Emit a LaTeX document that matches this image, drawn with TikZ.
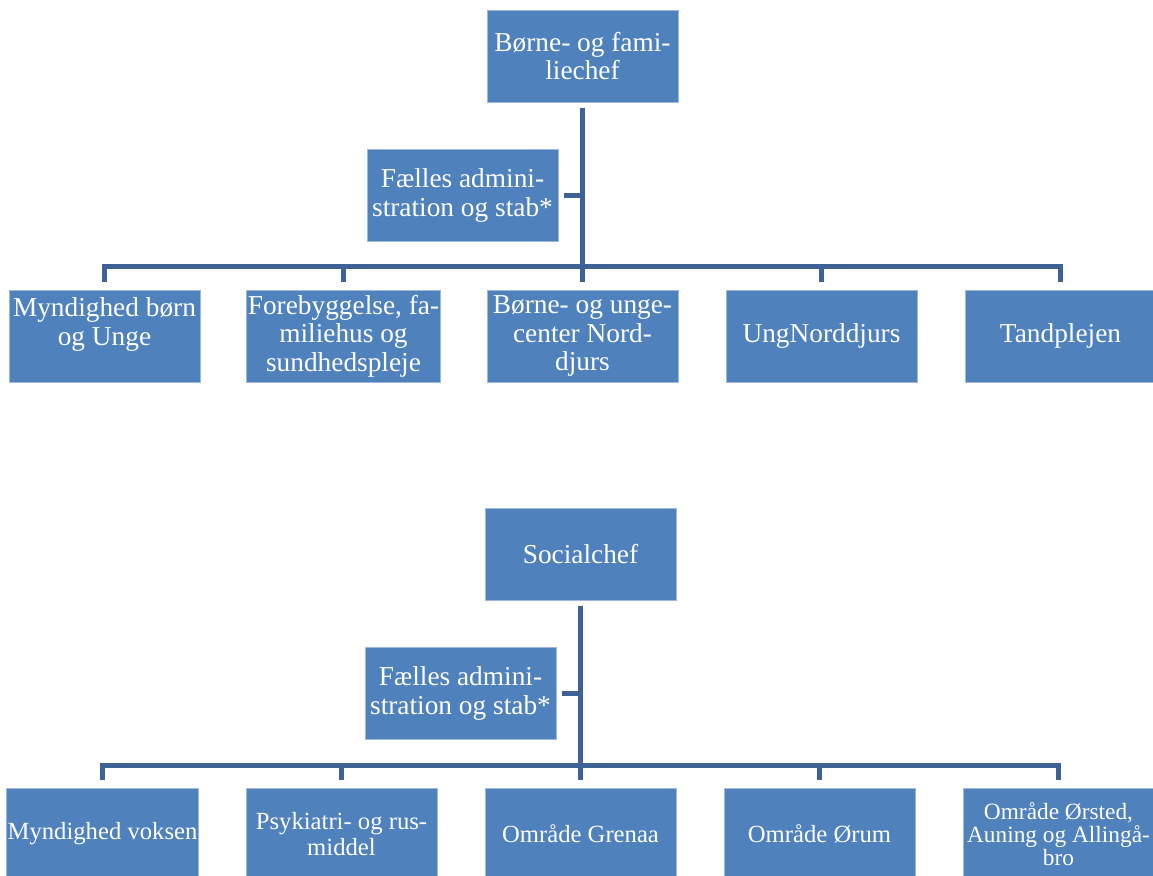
\documentclass[tikz,border=0pt]{standalone}
\usepackage{fontspec}
\setmainfont{Liberation Serif}
\usetikzlibrary{positioning, calc}
\definecolor{boxblue}{HTML}{4F81BD}
\definecolor{lineblue}{HTML}{3E6296}
\definecolor{edgeblue}{HTML}{9DB7DE}

\begin{document}
\begin{tikzpicture}[
    x=0.75pt,
    y=-0.75pt,
    orgbox/.style={rectangle, draw=edgeblue, line width=0.5pt, fill=boxblue, text=white, minimum width=143pt, minimum height=69pt, inner sep=1pt, align=center, font=\fontsize{20.5}{21.5}\selectfont},
    lowbox/.style={orgbox, font=\fontsize{18.5}{19.5}\selectfont},
    link/.style={lineblue, line width=3.75pt}
]
\useasboundingbox (0,0) rectangle (1153,875);

% Upper chart: chef and staff
\node[orgbox] (chefA) at (582.5, 56) {Børne- og fami-\\liechef};
\node[orgbox] (stabA) at (462.5, 195.5) {Fælles admini-\\stration og stab*};

% Upper chart: units
\node[orgbox] (unitA1) at (104.5, 336) {Myndighed børn\\og Unge\\~};
\node[orgbox] (unitA2) at (343.5, 336) {Forebyggelse, fa-\\miliehus og\\sundhedspleje};
\node[orgbox] (unitA3) at (582.5, 336) {Børne- og unge-\\center Nord-\\djurs};
\node[orgbox] (unitA4) at (821.5, 336) {UngNorddjurs};
\node[orgbox] (unitA5) at (1060.5, 336) {Tandplejen};

\coordinate (busA) at (0, 266);
\foreach \u in {unitA1, unitA2, unitA3, unitA4, unitA5} {
    \draw[link, shorten <=4pt, shorten >=6pt] (chefA.south) -- (chefA.south |- busA) -| (\u.north);
}
\draw[link] ([xshift=4pt]stabA.east) -- (stabA.east -| chefA.south);

% Lower chart: chef and staff
\node[orgbox] (chefB) at (580.5, 554) {Socialchef};
\node[orgbox] (stabB) at (460.5, 693.5) {Fælles admini-\\stration og stab*};

% Lower chart: units
\node[lowbox] (unitB1) at (102.5, 834) {Myndighed voksen};
\node[lowbox] (unitB2) at (341.5, 834) {Psykiatri- og rus-\\middel};
\node[lowbox] (unitB3) at (580.5, 834) {Område Grenaa};
\node[lowbox] (unitB4) at (819.5, 834) {Område Ørum};
\node[lowbox, font=\fontsize{17.5}{17}\selectfont] (unitB5) at (1058.5, 834) {Område Ørsted,\\Auning og Allingå-\\bro};

\coordinate (busB) at (0, 765);
\foreach \u in {unitB1, unitB2, unitB3, unitB4, unitB5} {
    \draw[link, shorten <=4pt, shorten >=6pt] (chefB.south) -- (chefB.south |- busB) -| (\u.north);
}
\draw[link] ([xshift=4pt]stabB.east) -- (stabB.east -| chefB.south);

\end{tikzpicture}
\end{document}
